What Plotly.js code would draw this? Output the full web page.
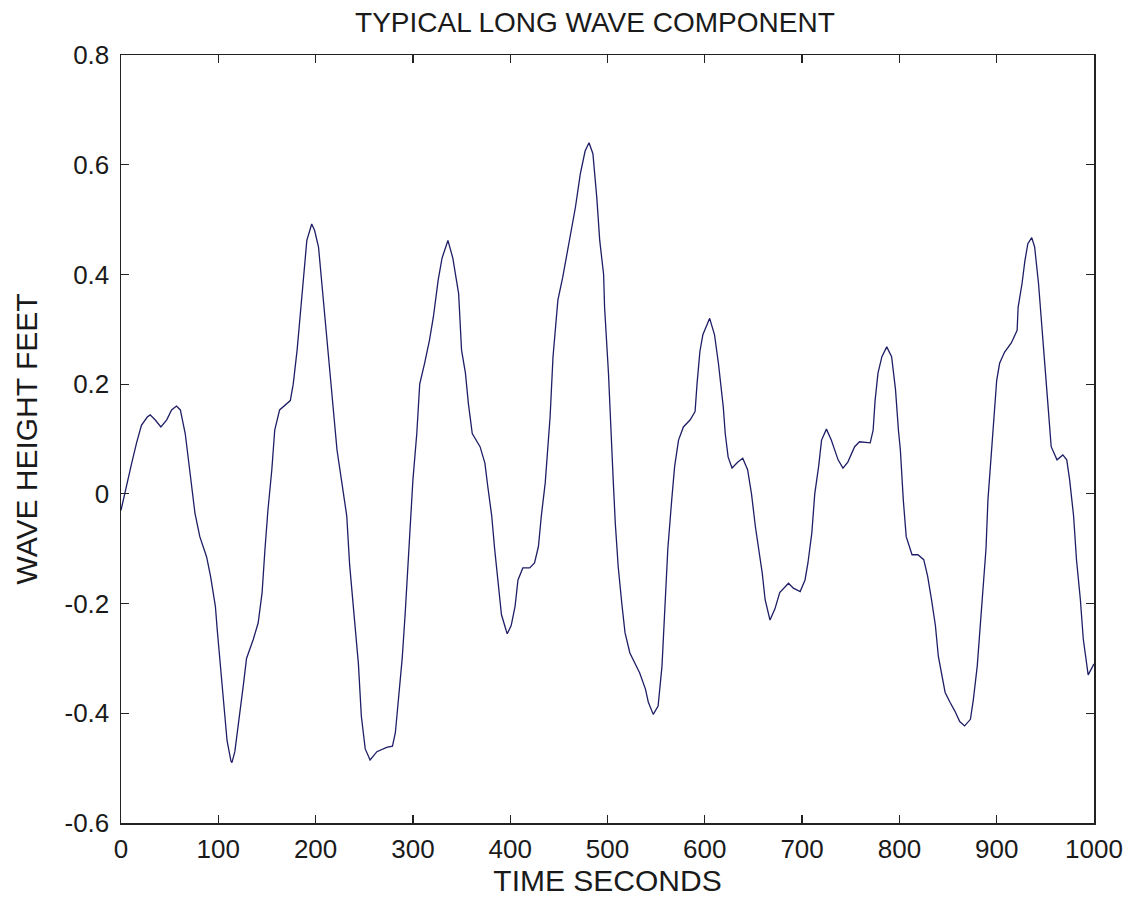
<!DOCTYPE html>
<html>
<head>
<meta charset="utf-8">
<script src="https://cdn.plot.ly/plotly-3.0.1.min.js"></script>
<style>html,body{margin:0;padding:0;background:#fff;}#chart{width:1131px;height:905px;}</style>
</head>
<body>
<div id="chart"></div>
<script>
const timeSeconds = [0,6,11,16,21,27,30,35,41,47,52,57,61,66,71,76,81,88,92,97,99,102,105,109,113,114,117,122,126,129,136,141,145,148,151,155,158,163,170,174,177,181,184,187,189,191,196,199,203,206,210,213,216,219,222,227,232,235,239,242,244,247,251,256,263,273,279,282,285,289,292,294,297,300,304,307,312,317,321,326,330,336,341,347,350,354,357,361,369,374,377,381,384,388,391,396,397,401,405,408,413,420,425,429,432,436,439,441,444,449,454,461,467,472,477,481,485,489,492,496,497,501,503,504,506,508,511,515,518,523,528,533,539,542,547,552,556,559,562,566,569,573,578,585,590,592,595,598,605,610,614,619,621,624,628,634,639,644,648,652,655,659,662,667,672,677,686,691,698,703,706,710,713,717,720,725,730,737,742,747,754,759,770,773,775,778,782,787,792,796,799,801,804,807,813,819,825,829,833,837,840,844,847,852,857,862,867,873,876,880,883,886,889,891,895,898,900,903,908,915,921,922,926,929,932,936,939,943,946,950,953,956,962,968,972,975,979,982,986,989,993,994,997,1000];
const waveHeightFeet = [-0.03,0.02,0.056,0.093,0.125,0.14,0.144,0.135,0.122,0.135,0.153,0.16,0.153,0.11,0.038,-0.035,-0.078,-0.115,-0.15,-0.205,-0.25,-0.31,-0.375,-0.45,-0.487,-0.49,-0.47,-0.405,-0.345,-0.30,-0.265,-0.235,-0.18,-0.10,-0.03,0.044,0.116,0.153,0.165,0.17,0.2,0.262,0.322,0.383,0.425,0.462,0.492,0.48,0.45,0.39,0.322,0.25,0.19,0.13,0.08,0.02,-0.04,-0.13,-0.205,-0.265,-0.31,-0.405,-0.465,-0.485,-0.47,-0.462,-0.46,-0.435,-0.375,-0.30,-0.22,-0.16,-0.07,0.025,0.11,0.2,0.238,0.28,0.322,0.39,0.43,0.462,0.43,0.365,0.262,0.22,0.165,0.11,0.086,0.056,0.013,-0.04,-0.10,-0.175,-0.22,-0.25,-0.255,-0.24,-0.205,-0.157,-0.135,-0.135,-0.126,-0.096,-0.04,0.02,0.098,0.14,0.25,0.353,0.395,0.462,0.522,0.583,0.625,0.64,0.62,0.54,0.462,0.40,0.34,0.22,0.13,0.098,0.02,-0.053,-0.133,-0.205,-0.253,-0.29,-0.308,-0.326,-0.356,-0.38,-0.402,-0.387,-0.314,-0.217,-0.10,-0.011,0.05,0.098,0.122,0.135,0.15,0.2,0.26,0.29,0.32,0.29,0.238,0.158,0.11,0.067,0.047,0.058,0.065,0.044,0.0,-0.06,-0.096,-0.144,-0.193,-0.23,-0.21,-0.18,-0.163,-0.172,-0.178,-0.157,-0.126,-0.071,0.0,0.05,0.098,0.118,0.098,0.062,0.047,0.058,0.086,0.095,0.093,0.116,0.17,0.22,0.25,0.268,0.25,0.19,0.116,0.08,-0.011,-0.078,-0.111,-0.111,-0.12,-0.15,-0.193,-0.24,-0.296,-0.338,-0.362,-0.38,-0.396,-0.415,-0.423,-0.411,-0.375,-0.314,-0.24,-0.175,-0.10,-0.011,0.08,0.147,0.207,0.238,0.258,0.275,0.298,0.34,0.383,0.425,0.456,0.467,0.45,0.383,0.31,0.22,0.155,0.086,0.062,0.071,0.062,0.025,-0.04,-0.12,-0.193,-0.265,-0.314,-0.33,-0.32,-0.31];
const xTickVals = [0,100,200,300,400,500,600,700,800,900,1000];
const xTickText = ["0","100","200","300","400","500","600","700","800","900","1000"];
const yTickVals = [-0.6,-0.4,-0.2,0,0.2,0.4,0.6,0.8];
const yTickText = ["-0.6","-0.4","-0.2","0","0.2","0.4","0.6","0.8"];

const fam = "Liberation Sans, Arial, sans-serif";
const txtColor = "#1a1a1a";
const tickFont = {family: fam, size: 26, color: txtColor};
const trace = {
  x: timeSeconds, y: waveHeightFeet, type: "scatter", mode: "lines",
  line: {color: "#1e1e66", width: 1.3}, hoverinfo: "skip"
};
const axisCommon = {
  showgrid: false, zeroline: false, showline: true, mirror: "ticks",
  linecolor: "#222", linewidth: 1.5, ticks: "inside", ticklen: 8,
  tickwidth: 1.2, tickcolor: "#222", tickfont: tickFont
};
const layout = {
  width: 1131, height: 905,
  paper_bgcolor: "#fff", plot_bgcolor: "#fff",
  margin: {l: 121, r: 37, t: 55, b: 82},
  showlegend: false,
  font: tickFont,
  title: {text: "TYPICAL LONG WAVE COMPONENT", font: {family: fam, size: 28, color: txtColor},
          x: 0.526, xanchor: "center", y: 0.9757, yanchor: "middle"},
  xaxis: Object.assign({}, axisCommon, {
    range: [0, 1000], tickvals: xTickVals, ticktext: xTickText, ticklabelstandoff: 2,
    title: {text: "TIME SECONDS", font: {family: fam, size: 30, color: txtColor}, standoff: 1}
  }),
  yaxis: Object.assign({}, axisCommon, {
    range: [-0.6, 0.8], tickvals: yTickVals, ticktext: yTickText, ticklabelstandoff: 5,
    title: {text: "WAVE HEIGHT FEET", font: {family: fam, size: 30, color: txtColor}, standoff: 18}
  })
};
Plotly.newPlot("chart", [trace], layout, {displayModeBar: false, staticPlot: true});
</script>
</body>
</html>
